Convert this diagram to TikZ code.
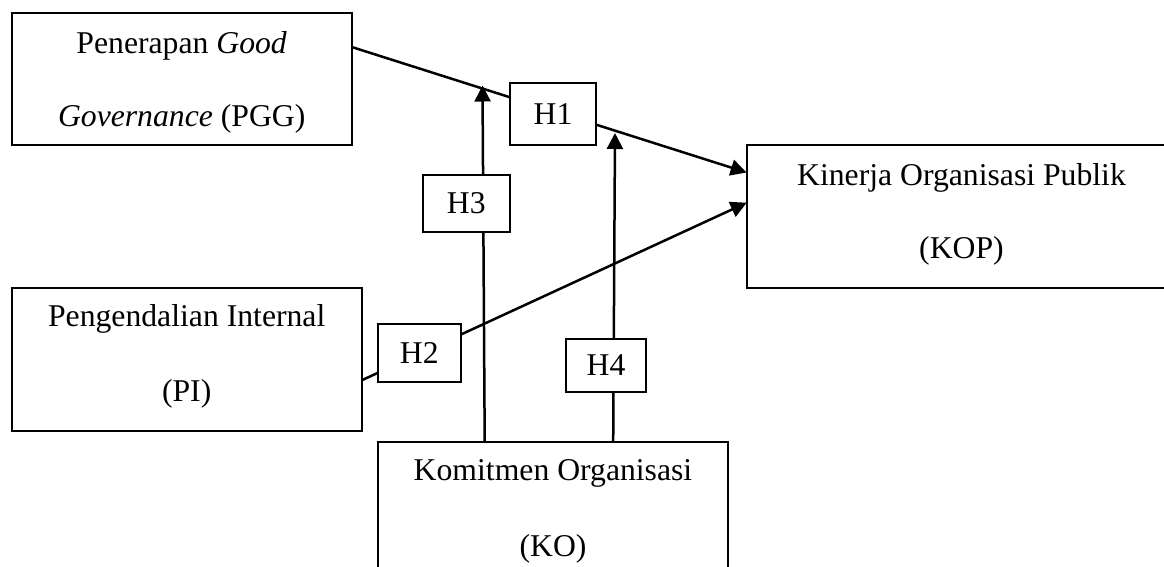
\documentclass[tikz,border=0pt]{standalone}
\usepackage{fontspec}
\setmainfont{Liberation Serif}
\usetikzlibrary{arrows.meta,backgrounds}
\begin{document}
\begin{tikzpicture}[x=1pt,y=-1pt,
  every node/.style={font=\fontsize{31.7}{75}\selectfont, inner sep=0pt, outer sep=0pt},
  bigbox/.style={draw, line width=2pt, anchor=north west},
  hbox/.style={draw, fill=white, line width=2pt, anchor=north west, align=center},
  lbl/.style={anchor=base},
  arr/.style={line width=2.5pt, -{Triangle[length=16pt,width=16pt]}}]
\useasboundingbox (0,0) rectangle (1164,567);
\clip (0,0) rectangle (1164,567);
% main boxes
\node[bigbox, minimum width=340pt, minimum height=132pt] (PGG) at (11.7,13) {};
\node[bigbox, minimum width=350pt, minimum height=142.4pt] (PI) at (11.7,288.3) {};
\node[bigbox, minimum width=430pt, minimum height=143.3pt] (KOP) at (746.7,145) {};
\node[bigbox, minimum width=350.6pt, minimum height=160pt] (KO) at (377.7,441.7) {};
% texts
\node[lbl] (tPGG1) at (181.7,53.3) {Penerapan \textit{Good}};
\node[lbl] (tPGG2) at (181.7,126.7) {\textit{Governance} (PGG)};
\node[lbl] (tPI1) at (186.7,326.7) {Pengendalian Internal};
\node[lbl] (tPI2) at (186.7,401.5) {(PI)};
\node[lbl] (tKOP1) at (961.5,185) {Kinerja Organisasi Publik};
\node[lbl] (tKOP2) at (961.5,258.5) {(KOP)};
\node[lbl] (tKO1) at (553,480) {Komitmen Organisasi};
\node[lbl] (tKO2) at (553,556) {(KO)};
% hypothesis boxes
\node[hbox, minimum width=86pt, minimum height=62pt] (H1) at (510,83.3) {H1};
\node[hbox, minimum width=87.3pt, minimum height=56.7pt] (H3) at (422.7,175) {H3};
\node[hbox, minimum width=83.3pt, minimum height=57.7pt] (H2) at (377.7,324) {H2};
\node[hbox, minimum width=80pt, minimum height=52.7pt] (H4) at (566,339) {H4};
% arrow end points on the H1 line
\coordinate (m3) at (482.5,85.5);
\coordinate (m4) at (615,133);
\begin{scope}[on background layer]
\draw[arr] ([yshift=-34pt]PGG.north east) -- ([yshift=-27.5pt]KOP.north west);
\draw[arr] ([yshift=-92pt]PI.north east) -- ([yshift=-57.7pt]KOP.north west);
\draw[arr] ([xshift=107pt]KO.north west) -- (m3);
\draw[arr] ([xshift=235.5pt]KO.north west) -- (m4);
\end{scope}
\end{tikzpicture}
\end{document}
